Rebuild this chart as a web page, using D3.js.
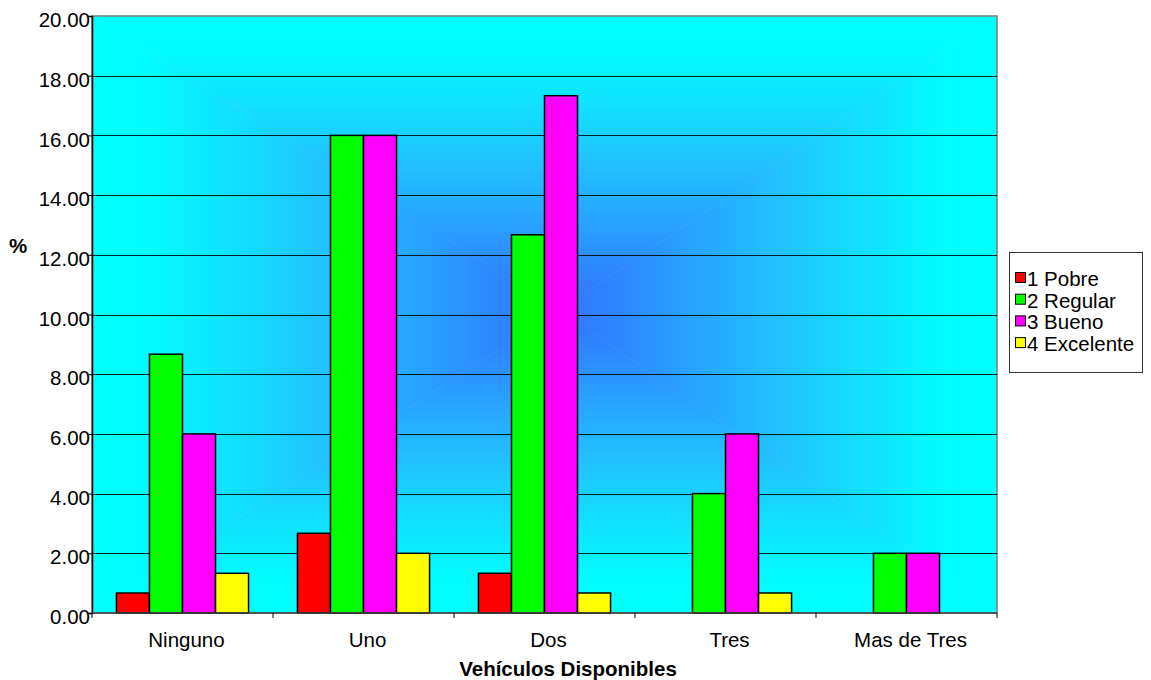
<!DOCTYPE html>
<html>
<head>
<meta charset="utf-8">
<script src="https://cdn.jsdelivr.net/npm/d3@7"></script>
<style>
  html, body { margin: 0; padding: 0; background: #fff; }
  svg { display: block; font-family: Arial, "Liberation Sans", sans-serif; }
</style>
</head>
<body>
<svg id="chart" width="1151" height="680"></svg>
<script>
// Vehículos disponibles por hogar, según calificación (%)
const categories = ["Ninguno", "Uno", "Dos", "Tres", "Mas de Tres"];
const seriesNames = ["1 Pobre", "2 Regular", "3 Bueno", "4 Excelente"];
const seriesColors = ["#ff0000", "#00ff00", "#ff00ff", "#ffff00"];
const pobre     = [0.67, 2.67, 1.33, 0, 0];
const regular   = [8.67, 16.00, 12.67, 4.00, 2.00];
const bueno     = [6.00, 16.00, 17.33, 6.00, 2.00];
const excelente = [1.33, 2.00, 0.67, 0.67, 0];
const yTicks = [0, 2, 4, 6, 8, 10, 12, 14, 16, 18, 20];

const seriesValues = [pobre, regular, bueno, excelente];

const svg = d3.select("#chart");
const plot = { left: 92, top: 16, right: 997, bottom: 613 };
const W = plot.right - plot.left, H = plot.bottom - plot.top;
const FONT = 20.5;

const x = d3.scaleBand().domain(categories).range([plot.left, plot.right]).paddingInner(0).paddingOuter(0);
const xInner = d3.scaleBand().domain(seriesNames).range([0, x.bandwidth()]).paddingInner(0).paddingOuter(0.74);
const y = d3.scaleLinear().domain([0, 20]).range([plot.bottom, plot.top]);

// Rectangular "from center" gradient built from four triangles
const defs = svg.append("defs");
const cx = 560, cy = 310;
const stops = [[0, "#3272ff"], [0.5, "#22c2ff"], [0.88, "#02fcff"], [1, "#00ffff"]];
const tris = [
  { id: "gTop",    pts: [[plot.left, plot.top], [plot.right, plot.top], [cx, cy]],       g: [cx, cy, cx, plot.top] },
  { id: "gBottom", pts: [[plot.left, plot.bottom], [plot.right, plot.bottom], [cx, cy]], g: [cx, cy, cx, plot.bottom] },
  { id: "gLeft",   pts: [[plot.left, plot.top], [plot.left, plot.bottom], [cx, cy]],     g: [cx, cy, plot.left, cy] },
  { id: "gRight",  pts: [[plot.right, plot.top], [plot.right, plot.bottom], [cx, cy]],   g: [cx, cy, plot.right, cy] }
];
tris.forEach(t => {
  const lg = defs.append("linearGradient").attr("id", t.id).attr("gradientUnits", "userSpaceOnUse")
    .attr("x1", t.g[0]).attr("y1", t.g[1]).attr("x2", t.g[2]).attr("y2", t.g[3]);
  stops.forEach(s => lg.append("stop").attr("offset", s[0]).attr("stop-color", s[1]));
  svg.append("polygon").attr("points", t.pts.map(p => p.join(",")).join(" "))
    .attr("fill", `url(#${t.id})`).attr("stroke", `url(#${t.id})`).attr("stroke-width", 0.6);
});

// Plot frame (top/right edges in gray)
svg.append("rect").attr("x", plot.left).attr("y", plot.top).attr("width", W).attr("height", H)
  .attr("fill", "none").attr("stroke", "#808080").attr("stroke-width", 1.5);

// Horizontal gridlines
svg.append("g").selectAll("line").data(yTicks.filter(d => d > 0 && d < 20)).join("line")
  .attr("x1", plot.left).attr("x2", plot.right)
  .attr("y1", d => Math.round(y(d)) + 0.5).attr("y2", d => Math.round(y(d)) + 0.5)
  .attr("stroke", "#000").attr("stroke-opacity", 0.85).attr("stroke-width", 1);

// Bars
const groups = svg.append("g").selectAll("g").data(categories).join("g")
  .attr("transform", d => `translate(${x(d)},0)`);
groups.selectAll("rect")
  .data((c, ci) => seriesNames.map((s, si) => ({ s, si, v: seriesValues[si][ci] })).filter(d => d.v > 0))
  .join("rect")
  .attr("x", d => xInner(d.s))
  .attr("width", xInner.bandwidth())
  .attr("y", d => y(d.v))
  .attr("height", d => y(0) - y(d.v))
  .attr("fill", d => seriesColors[d.si])
  .attr("stroke", "#000").attr("stroke-width", 1.5);

// Y axis
const yAxis = d3.axisLeft(y).tickValues(yTicks).tickFormat(d3.format(".2f")).tickSize(4).tickPadding(-2);
const gy = svg.append("g").attr("transform", `translate(${plot.left},0)`).call(yAxis);
gy.select(".domain").attr("stroke", "#000").attr("stroke-width", 1.5);
gy.selectAll(".tick line").attr("stroke", "#000");
gy.selectAll(".tick text").attr("font-size", FONT).attr("fill", "#000").attr("dy", "0.52em")
  .attr("font-family", "Arial, 'Liberation Sans', sans-serif");

// X axis with tick marks between categories
const gx = svg.append("g").attr("transform", `translate(0,${plot.bottom})`);
gx.append("line").attr("x1", plot.left).attr("x2", plot.right).attr("y1", 0).attr("y2", 0)
  .attr("stroke", "#404040").attr("stroke-width", 1.5);
const bounds = categories.map(c => x(c)).concat([plot.right]);
gx.selectAll("line.tk").data(bounds).join("line").attr("class", "tk")
  .attr("x1", d => d).attr("x2", d => d).attr("y1", 0).attr("y2", 5)
  .attr("stroke", "#000");
gx.selectAll("text").data(categories).join("text")
  .attr("x", d => x(d) + x.bandwidth() / 2 + 4).attr("y", 34)
  .attr("text-anchor", "middle").attr("font-size", FONT).text(d => d);

// Axis titles
svg.append("text").attr("x", 568).attr("y", 676).attr("text-anchor", "middle")
  .attr("font-size", FONT).attr("font-weight", "bold").text("Vehículos Disponibles");
svg.append("text").attr("x", 18).attr("y", 253).attr("text-anchor", "middle")
  .attr("font-size", FONT).attr("font-weight", "bold").text("%");

// Legend
const legend = svg.append("g");
legend.append("rect").attr("x", 1009.5).attr("y", 252.5).attr("width", 133).attr("height", 120)
  .attr("fill", "#fff").attr("stroke", "#333").attr("stroke-width", 1);
const items = legend.selectAll("g").data(seriesNames).join("g")
  .attr("transform", (d, i) => `translate(1015,${272 + i * 21.7})`);
items.append("rect").attr("x", 0.5).attr("y", 0.5).attr("width", 10).attr("height", 10)
  .attr("fill", (d, i) => seriesColors[i]).attr("stroke", "#000").attr("stroke-width", 1);
items.append("text").attr("x", 12).attr("y", 14).attr("font-size", FONT).text(d => d);
</script>
</body>
</html>
